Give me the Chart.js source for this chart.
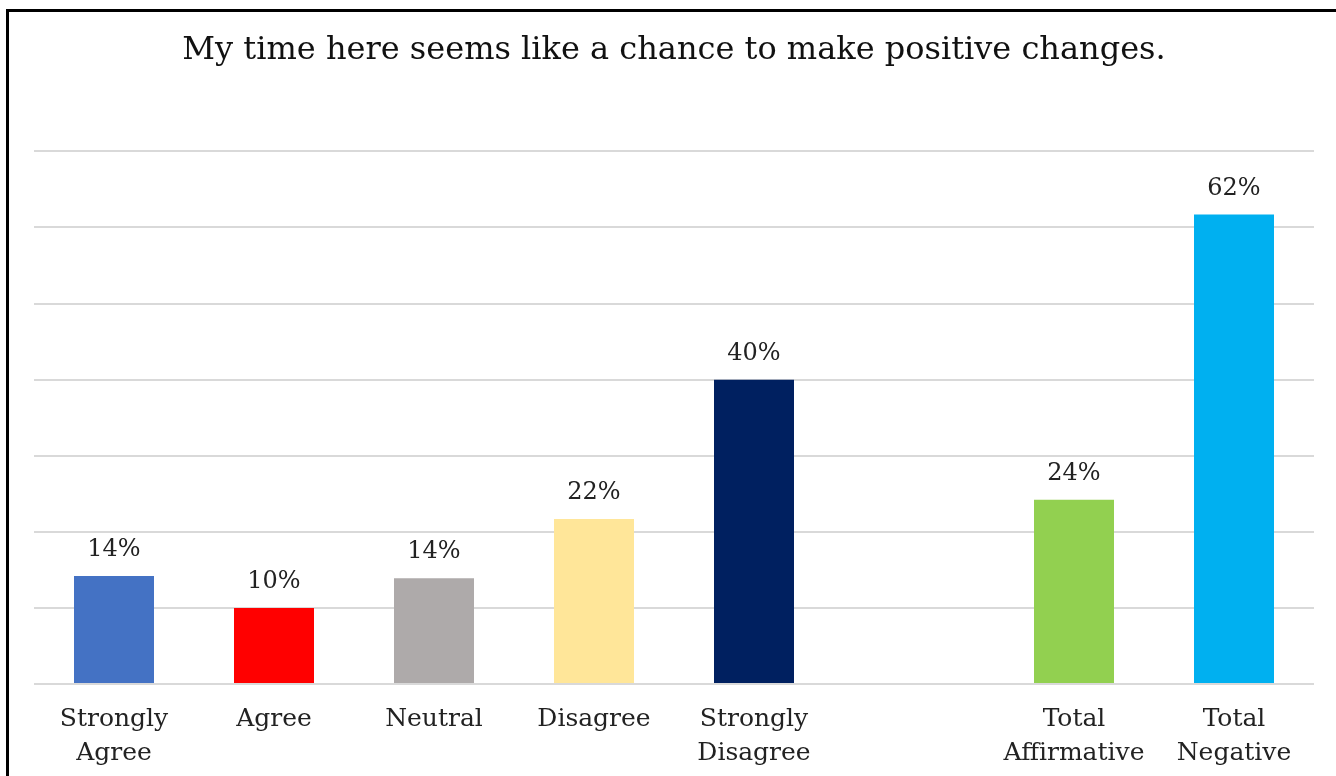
<!DOCTYPE html>
<html>
<head>
<meta charset="utf-8">
<script src="https://cdn.jsdelivr.net/npm/chart.js@4"></script>
<style>
  html, body { margin: 0; padding: 0; background: #fff; overflow: hidden; width: 1336px; height: 776px; }
  .frame {
    position: absolute; left: 6px; top: 9px;
    width: 1400px; height: 800px;
    border-top: 3px solid #000; border-left: 3px solid #000;
  }
  #wrap { position: absolute; left: 0; top: 0; width: 1336px; height: 787px; }
</style>
</head>
<body>
<div class="frame"></div>
<div id="wrap"><canvas id="surveyChart"></canvas></div>
<script>
const titleText = 'My time here seems like a chance to make positive changes.'
const categories = [
  ['Strongly', 'Agree'], 'Agree', 'Neutral', 'Disagree', ['Strongly', 'Disagree'],
  '', ['Total', 'Affirmative'], ['Total', 'Negative']
]
const percentages = [14.2, 10.0, 13.9, 21.7, 40.0, null, 24.2, 61.7]
const barColors = ['#4472C4', '#FF0000', '#AEAAAA', '#FFE699', '#002060', '#FFFFFF', '#92D050', '#00B0F0']

const serif = "'DejaVu Serif', Georgia, serif"

// draws "14%" etc. above each bar
const valueLabels = {
  id: 'valueLabels',
  afterDatasetsDraw(chart) {
    const ctx = chart.ctx
    const meta = chart.getDatasetMeta(0)
    ctx.save()
    ctx.font = "24px " + serif
    ctx.fillStyle = '#222'
    ctx.textAlign = 'center'
    ctx.textBaseline = 'middle'
    meta.data.forEach((bar, i) => {
      const v = percentages[i]
      if (v == null) return
      ctx.fillText(Math.round(v) + '%', bar.x, bar.y - 26)
    })
    ctx.restore()
  }
}

new Chart(document.getElementById('surveyChart'), {
  type: 'bar',
  data: {
    labels: categories,
    datasets: [{
      data: percentages,
      backgroundColor: barColors,
      barPercentage: 0.5,
      categoryPercentage: 1.0
    }]
  },
  options: {
    responsive: true,
    maintainAspectRatio: false,
    animation: false,
    layout: { padding: { left: 34, right: 22, top: 31, bottom: 7 } },
    plugins: {
      legend: { display: false },
      tooltip: { enabled: false },
      title: {
        display: true,
        text: titleText,
        color: '#111',
        font: { family: serif, size: 32, weight: 'normal' },
        padding: { top: 0, bottom: 82 }
      }
    },
    scales: {
      x: {
        grid: { display: false },
        border: { display: false },
        ticks: {
          color: '#222',
          font: { family: serif, size: 25, lineHeight: 1.36 },
          padding: 10,
          maxRotation: 0,
          autoSkip: false
        }
      },
      y: {
        min: 0,
        max: 70,
        ticks: { stepSize: 10, display: false },
        border: { display: false },
        grid: { color: '#D9D9D9', lineWidth: 2, drawTicks: false }
      }
    }
  },
  plugins: [valueLabels]
})
</script>
</body>
</html>
